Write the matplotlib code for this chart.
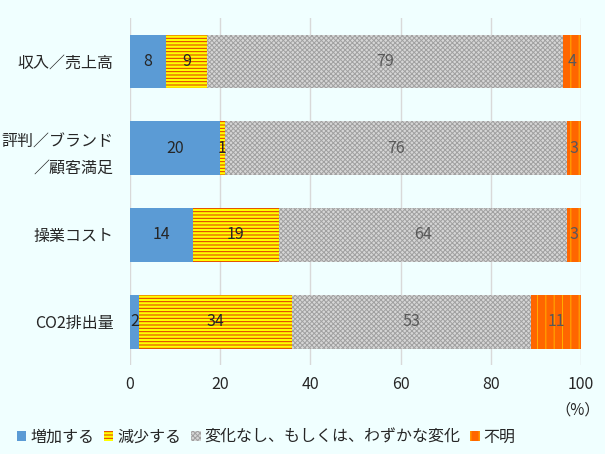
import numpy as np
import matplotlib.pyplot as plt
from matplotlib.patches import Patch

plt.rcParams['font.family'] = ['Noto Sans CJK JP', 'DejaVu Sans']
plt.rcParams['hatch.linewidth'] = 0.7

# ── DATA ─────────────────────────────────────────────────────────────────────
categories = ['収入／売上高', '評判／ブランド\n／顧客満足', '操業コスト', 'CO2排出量']
series_names = ['増加する', '減少する', '変化なし、もしくは、わずかな変化', '不明']
increase = [8, 20, 14, 2]
decrease = [9, 1, 19, 34]
no_change = [79, 76, 64, 53]
unknown = [4, 3, 3, 11]

series = [increase, decrease, no_change, unknown]
face = ['#5B9BD5', '#FFFF00', '#D6D6D6', '#FF6600']
hatch_col = [None, '#E03000', '#A0A0A0', '#FFB000']
hatches = [None, '-----', 'xxxxxxx', '||']
txt_col = ['#262626', '#262626', '#595959', '#595959']

fig = plt.figure(figsize=(6.05, 4.54), dpi=100, facecolor='#F0FFFF')
ax = fig.add_axes([0.215, 0.196, 0.745, 0.764], facecolor='#F0FFFF')

y = np.arange(len(categories))
left = np.zeros(len(categories))
for vals, fc, hc, h, tc in zip(series, face, hatch_col, hatches, txt_col):
    vals = np.array(vals, dtype=float)
    ax.barh(y, vals, left=left, height=0.62, color=fc,
            edgecolor=hc if hc else fc, hatch=h, linewidth=0, zorder=2)
    for yi, l, v in zip(y, left, vals):
        ax.text(l + v / 2, yi, f'{int(v)}', ha='center', va='center',
                fontsize=11.5, color=tc, zorder=3)
    left += vals

ax.set_xlim(0, 100)
ax.set_ylim(3.5, -0.5)
ax.set_xticks([0, 20, 40, 60, 80, 100])
ax.set_yticks(y)
ax.set_yticklabels(categories, fontsize=11.5, color='#262626', linespacing=1.7)
ax.tick_params(axis='both', length=0, colors='#262626', labelsize=11.5)
ax.tick_params(axis='y', pad=12)
ax.tick_params(axis='x', pad=8)
ax.grid(axis='x', color='#D9D9D9', linewidth=1, zorder=0)
for s in ax.spines.values():
    s.set_visible(False)

fig.text(0.955, 0.097, '（%）', ha='center', va='center', fontsize=11, color='#262626')

handles = [Patch(facecolor=fc, edgecolor=hc if hc else fc, hatch=h, linewidth=0)
           for fc, hc, h in zip(face, hatch_col, hatches)]
fig.legend(handles, series_names, loc='center', bbox_to_anchor=(0.44, 0.037), ncol=4,
           frameon=False, fontsize=11.5, handlelength=0.6, handleheight=0.6,
           handletextpad=0.25, columnspacing=0.6, labelcolor='#262626')

fig.savefig('out.png', dpi=100, facecolor=fig.get_facecolor())
